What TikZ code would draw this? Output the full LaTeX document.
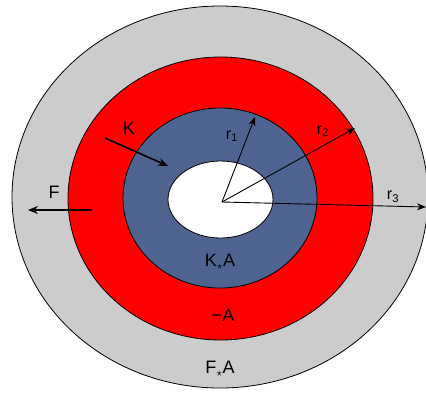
\documentclass[tikz,border=0pt]{standalone}
\usepackage{fontspec}
\setmainfont{Liberation Sans}
\usepackage{xcolor}
\usetikzlibrary{arrows.meta}
\definecolor{ringgray}{RGB}{204,204,204}
\definecolor{ringred}{RGB}{255,0,0}
\definecolor{ringblue}{RGB}{79,99,145}
\begin{document}
\begin{tikzpicture}[x=1pt, y=-1pt,
  ring/.style={draw=black, line width=0.8pt},
  lbl/.style={font=\fontsize{18}{20}\selectfont, inner sep=0pt},
  rlbl/.style={font=\fontsize{16}{18}\selectfont, inner sep=0pt},
  radius/.style={-{Stealth[length=9pt, width=7pt]}, line width=0.9pt},
  force/.style={-{Stealth[length=10pt, width=8pt]}, line width=1.6pt}
]
\useasboundingbox (0,0) rectangle (426,392);
\clip (0,0) rectangle (426,392);
% rings
\draw[ring, fill=ringgray]  (220,197)   ellipse [x radius=208,   y radius=191];
\draw[ring, fill=ringred]   (220.5,198.5) ellipse [x radius=152.5, y radius=141.5];
\draw[ring, fill=ringblue]  (220,198)   ellipse [x radius=97,    y radius=90];
\draw[ring, fill=white]     (220.5,199.5) ellipse [x radius=52.5, y radius=38.5];
% radii
\coordinate (o)  at (222,202);
\coordinate (e1) at (255,117);
\coordinate (e2) at (355,128);
\coordinate (e3) at (426,207);
\draw[radius] (o) -- (e1);
\draw[radius] (o) -- (e2);
\draw[radius] (o) -- (e3);
\node[rlbl] (r1) at (232,136) {r$_{\mathrm{1}}$};
\node[rlbl] (r2) at (323,131) {r$_{\mathrm{2}}$};
\node[rlbl] (r3) at (393,197) {r$_{\mathrm{3}}$};
% forces
\coordinate (ks) at (105,138);
\coordinate (ke) at (168,166);
\coordinate (fs) at (92,210);
\coordinate (fe) at (28,210);
\draw[force] (ks) -- (ke);
\draw[force] (fs) -- (fe);
\node[lbl] (k) at (129,128) {K};
\node[lbl] (f) at (54,192) {F};
% region labels
\node[lbl] (ka) at (220,262) {K$_\star$A};
\node[lbl] (ma) at (223,315) {−A};
\node[lbl] (fa) at (220,369) {F$_\star$A};
\end{tikzpicture}
\end{document}
